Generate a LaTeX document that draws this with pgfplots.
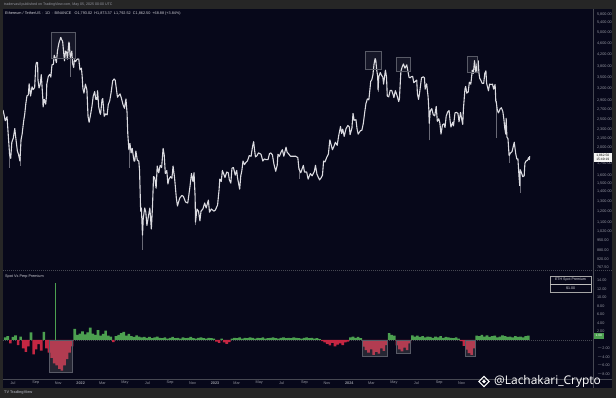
\documentclass[border=0pt]{standalone}
\usepackage{pgfplots}
\pgfplotsset{compat=1.18}
\usepackage{pgfplotstable}
\usepgfplotslibrary{dateplot}
\usepackage{fontspec}
\setmainfont{Liberation Sans}
\newfontfamily\wmfont{Open Sans}
\definecolor{bgnavy}{HTML}{07081A}
\definecolor{frame}{HTML}{262626}
\definecolor{lblgray}{RGB}{150,152,162}
\definecolor{candle}{RGB}{218,218,224}
\definecolor{wick}{RGB}{105,105,118}
\definecolor{pgreen}{RGB}{76,160,80}
\definecolor{pred}{RGB}{196,38,66}
\definecolor{sepgray}{RGB}{70,72,82}
\definecolor{boxgray}{RGB}{88,90,102}

\pgfplotstableread{
date p
2021-06-04 2690
2021-06-07 2590
2021-06-10 2470
2021-06-15 2550
2021-06-18 2230
2021-06-22 1880
2021-06-25 1830
2021-06-28 2080
2021-07-02 2150
2021-07-06 2320
2021-07-09 2140
2021-07-13 1940
2021-07-16 1890
2021-07-20 1790
2021-07-23 2120
2021-07-26 2220
2021-07-30 2460
2021-08-02 2600
2021-08-05 2830
2021-08-08 3010
2021-08-12 3040
2021-08-14 3320
2021-08-18 3010
2021-08-22 3240
2021-08-25 3170
2021-08-29 3220
2021-09-01 3830
2021-09-03 3940
2021-09-06 3930
2021-09-07 3420
2021-09-10 3210
2021-09-13 3300
2021-09-16 3570
2021-09-20 2980
2021-09-21 2760
2021-09-24 2930
2021-09-28 2820
2021-09-30 3000
2021-10-01 3310
2021-10-05 3520
2021-10-09 3580
2021-10-12 3500
2021-10-15 3860
2021-10-19 3880
2021-10-21 4170
2021-10-24 4080
2021-10-27 3930
2021-10-30 4320
2021-11-03 4600
2021-11-08 4810
2021-11-10 4730
2021-11-13 4660
2021-11-16 4240
2021-11-18 3990
2021-11-21 4310
2021-11-24 4270
2021-11-26 4040
2021-11-30 4630
2021-12-01 4580
2021-12-03 4210
2021-12-04 4100
2021-12-08 4310
2021-12-10 3910
2021-12-13 3780
2021-12-15 4020
2021-12-18 3960
2021-12-21 4020
2021-12-24 4050
2021-12-27 4040
2021-12-30 3710
2022-01-03 3760
2022-01-05 3540
2022-01-07 3200
2022-01-10 3080
2022-01-14 3310
2022-01-18 3160
2022-01-21 2560
2022-01-24 2440
2022-01-28 2600
2022-02-01 2790
2022-02-04 3000
2022-02-08 3120
2022-02-11 2930
2022-02-14 2930
2022-02-16 3140
2022-02-19 2760
2022-02-22 2640
2022-02-24 2600
2022-02-28 2920
2022-03-02 2950
2022-03-06 2560
2022-03-10 2610
2022-03-14 2590
2022-03-17 2810
2022-03-21 2900
2022-03-25 3110
2022-03-29 3400
2022-04-02 3450
2022-04-05 3410
2022-04-08 3190
2022-04-11 2980
2022-04-14 3020
2022-04-18 3060
2022-04-21 2980
2022-04-26 2810
2022-04-30 2730
2022-05-04 2940
2022-05-07 2640
2022-05-09 2230
2022-05-12 1960
2022-05-15 2060
2022-05-18 1910
2022-05-21 1980
2022-05-26 1790
2022-05-28 1790
2022-05-31 1940
2022-06-04 1800
2022-06-08 1790
2022-06-10 1660
2022-06-13 1200
2022-06-15 1230
2022-06-18 990
2022-06-20 1130
2022-06-24 1230
2022-06-27 1190
2022-06-30 1070
2022-07-04 1150
2022-07-08 1230
2022-07-12 1040
2022-07-15 1230
2022-07-18 1580
2022-07-21 1570
2022-07-25 1440
2022-07-28 1720
2022-08-01 1630
2022-08-05 1730
2022-08-09 1700
2022-08-13 1980
2022-08-16 1880
2022-08-19 1620
2022-08-23 1660
2022-08-26 1490
2022-08-29 1550
2022-09-02 1580
2022-09-06 1560
2022-09-09 1720
2022-09-13 1570
2022-09-15 1470
2022-09-18 1330
2022-09-21 1250
2022-09-27 1330
2022-10-03 1360
2022-10-07 1350
2022-10-13 1290
2022-10-19 1280
2022-10-25 1460
2022-10-29 1620
2022-11-02 1520
2022-11-05 1630
2022-11-08 1340
2022-11-09 1100
2022-11-13 1220
2022-11-17 1200
2022-11-21 1110
2022-11-24 1200
2022-11-29 1220
2022-12-04 1280
2022-12-08 1230
2022-12-14 1310
2022-12-17 1190
2022-12-22 1220
2022-12-29 1200
2023-01-02 1210
2023-01-08 1260
2023-01-12 1420
2023-01-14 1550
2023-01-18 1520
2023-01-21 1660
2023-01-25 1610
2023-01-28 1570
2023-02-02 1640
2023-02-06 1630
2023-02-09 1540
2023-02-13 1500
2023-02-16 1690
2023-02-20 1700
2023-02-25 1600
2023-03-01 1660
2023-03-03 1570
2023-03-09 1430
2023-03-12 1590
2023-03-15 1660
2023-03-18 1790
2023-03-22 1740
2023-03-26 1770
2023-03-30 1790
2023-04-04 1870
2023-04-09 1860
2023-04-13 2010
2023-04-16 2090
2023-04-19 1930
2023-04-21 1850
2023-04-25 1870
2023-04-29 1910
2023-05-03 1900
2023-05-06 1890
2023-05-11 1790
2023-05-15 1820
2023-05-20 1810
2023-05-25 1810
2023-05-29 1900
2023-06-02 1910
2023-06-06 1880
2023-06-10 1750
2023-06-15 1650
2023-06-19 1730
2023-06-21 1890
2023-06-25 1860
2023-06-30 1930
2023-07-03 1960
2023-07-07 1860
2023-07-13 2000
2023-07-16 1920
2023-07-21 1890
2023-07-25 1860
2023-08-01 1860
2023-08-08 1860
2023-08-14 1840
2023-08-17 1680
2023-08-22 1630
2023-08-29 1730
2023-09-01 1640
2023-09-07 1640
2023-09-11 1550
2023-09-17 1620
2023-09-22 1590
2023-09-28 1650
2023-10-01 1730
2023-10-05 1610
2023-10-12 1540
2023-10-17 1570
2023-10-20 1600
2023-10-23 1790
2023-10-27 1780
2023-11-01 1850
2023-11-05 1890
2023-11-09 2120
2023-11-12 2050
2023-11-16 1960
2023-11-20 2010
2023-11-24 2080
2023-11-29 2030
2023-12-03 2190
2023-12-08 2360
2023-12-11 2230
2023-12-14 2310
2023-12-18 2180
2023-12-23 2320
2023-12-28 2380
2024-01-01 2350
2024-01-03 2210
2024-01-08 2330
2024-01-11 2620
2024-01-14 2480
2024-01-19 2490
2024-01-22 2310
2024-01-25 2220
2024-01-31 2280
2024-02-04 2290
2024-02-08 2420
2024-02-12 2660
2024-02-15 2830
2024-02-19 2940
2024-02-23 2920
2024-02-26 3180
2024-02-28 3380
2024-03-02 3430
2024-03-05 3560
2024-03-08 3880
2024-03-11 4060
2024-03-13 4000
2024-03-15 3730
2024-03-18 3520
2024-03-19 3160
2024-03-21 3510
2024-03-25 3630
2024-03-28 3560
2024-04-01 3500
2024-04-03 3310
2024-04-08 3700
2024-04-11 3500
2024-04-13 3010
2024-04-17 2990
2024-04-21 3150
2024-04-25 3150
2024-04-30 3010
2024-05-01 2970
2024-05-05 3140
2024-05-09 3040
2024-05-14 2880
2024-05-16 2940
2024-05-20 3660
2024-05-23 3780
2024-05-27 3890
2024-05-31 3760
2024-06-05 3860
2024-06-08 3680
2024-06-11 3500
2024-06-14 3480
2024-06-17 3510
2024-06-21 3520
2024-06-24 3350
2024-06-28 3380
2024-07-02 3420
2024-07-04 3060
2024-07-07 2930
2024-07-10 3100
2024-07-15 3480
2024-07-20 3510
2024-07-23 3480
2024-07-25 3180
2024-07-29 3320
2024-08-02 2990
2024-08-04 2690
2024-08-05 2420
2024-08-08 2680
2024-08-12 2720
2024-08-16 2590
2024-08-20 2570
2024-08-24 2770
2024-08-27 2460
2024-08-31 2510
2024-09-03 2420
2024-09-06 2220
2024-09-10 2390
2024-09-14 2410
2024-09-17 2340
2024-09-20 2560
2024-09-24 2650
2024-09-28 2680
2024-10-01 2450
2024-10-03 2350
2024-10-08 2440
2024-10-10 2370
2024-10-14 2630
2024-10-18 2640
2024-10-22 2620
2024-10-25 2450
2024-10-29 2640
2024-11-01 2510
2024-11-04 2400
2024-11-06 2720
2024-11-10 3180
2024-11-12 3250
2024-11-15 3080
2024-11-19 3110
2024-11-22 3360
2024-11-26 3310
2024-11-30 3700
2024-12-03 3610
2024-12-06 3990
2024-12-09 3700
2024-12-10 3630
2024-12-13 3890
2024-12-16 3990
2024-12-18 3630
2024-12-20 3470
2024-12-23 3420
2024-12-27 3330
2024-12-31 3330
2025-01-03 3610
2025-01-06 3680
2025-01-08 3330
2025-01-13 3140
2025-01-16 3310
2025-01-20 3300
2025-01-24 3310
2025-01-27 3180
2025-01-31 3300
2025-02-02 2870
2025-02-03 2880
2025-02-06 2690
2025-02-09 2630
2025-02-14 2720
2025-02-17 2740
2025-02-21 2660
2025-02-24 2490
2025-02-26 2340
2025-03-01 2220
2025-03-02 2520
2025-03-04 2170
2025-03-07 2140
2025-03-10 1870
2025-03-14 1910
2025-03-18 1930
2025-03-24 2080
2025-03-28 1900
2025-03-31 1820
2025-04-03 1820
2025-04-06 1580
2025-04-08 1470
2025-04-09 1670
2025-04-12 1640
2025-04-16 1580
2025-04-20 1590
2025-04-22 1760
2025-04-25 1790
2025-04-29 1800
2025-05-02 1840
2025-05-04 1810
2025-05-05 1862
}\price

% premium: x = days since 2021-07-01
\pgfplotstableread{
d v
-21 0.6
-14 0.9
-7 -0.8
0 0.7
7 1.1
14 -1.2
21 0.8
28 -2.0
35 -2.8
42 -1.5
49 1.8
56 -3.4
63 -2.2
70 -1.0
77 -2.5
84 1.9
91 -2.0
98 -3.0
105 -4.2
112 -5.5
119 -6.0
126 -6.8
133 -7.2
140 -6.0
147 -4.5
154 -3.0
161 -1.5
168 2.6
175 1.2
182 1.5
189 2.0
196 1.3
203 1.8
210 2.9
217 1.5
224 1.2
231 2.3
238 1.0
245 1.4
252 2.2
259 1.0
266 0.8
273 -0.5
280 0.9
287 1.2
294 1.6
301 1.9
308 1.0
315 1.4
322 0.9
329 0.7
336 1.1
343 0.8
350 0.6
357 0.7
364 0.5
371 0.7
378 0.4
385 0.6
392 0.8
399 0.5
406 0.4
413 0.6
420 0.3
427 0.5
434 0.7
441 0.4
448 0.5
455 0.3
462 0.6
469 0.4
476 0.5
483 0.7
490 0.4
497 0.3
504 0.5
511 0.6
518 0.4
525 0.3
532 0.5
539 0.4
546 0.3
553 -0.4
560 -0.7
567 0.3
574 -0.6
581 -0.9
588 -0.5
595 0.3
602 0.5
609 0.4
616 0.6
623 0.3
630 0.5
637 0.4
644 0.6
651 0.5
658 0.3
665 0.5
672 0.4
679 0.6
686 0.3
693 0.4
700 0.5
707 0.6
714 0.4
721 0.3
728 0.5
735 0.6
742 0.4
749 0.5
756 0.4
763 0.6
770 0.5
777 0.4
784 0.3
791 0.5
798 0.6
805 0.4
812 0.5
819 0.3
826 0.4
833 0.2
840 -0.3
847 -0.6
854 -0.9
861 -1.3
868 -0.7
875 -1.5
882 -1.1
889 -0.8
896 -1.2
903 -0.6
910 -0.4
917 0.6
924 0.8
931 0.5
938 0.7
945 0.4
952 -1.6
959 -2.4
966 -3.0
973 -2.2
980 -3.5
987 -2.8
994 -3.2
1001 -2.0
1008 -2.6
1015 -1.2
1022 1.6
1029 1.2
1036 1.0
1043 -1.3
1050 -2.2
1057 -2.7
1064 -1.8
1071 -2.4
1078 -0.8
1085 1.1
1092 0.8
1099 1.0
1106 0.7
1113 0.9
1120 0.6
1127 0.8
1134 0.7
1141 0.5
1148 0.8
1155 0.6
1162 0.9
1169 0.5
1176 0.7
1183 0.6
1190 0.5
1197 0.4
1204 0.6
1211 0.3
1218 -0.3
1225 -1.4
1232 -2.3
1239 -3.1
1246 -3.5
1253 -2.0
1260 1.0
1267 0.9
1274 1.2
1281 0.8
1288 1.1
1295 0.7
1302 0.9
1309 1.0
1316 0.6
1323 0.8
1330 1.1
1337 0.9
1344 0.7
1351 0.8
1358 0.6
1365 0.9
1372 0.7
1379 0.8
1386 0.6
1393 0.9
1400 1.0
}\prem

\begin{document}
\begin{tikzpicture}
\begin{scope}[x=1bp,y=1bp]
\useasboundingbox (0,0) rectangle (616,398);
\fill[frame] (0,0) rectangle (616,398);
\fill[bgnavy] (3,10) rectangle (612,389);
% header and legend
\node[anchor=west, inner sep=0, font=\fontsize{3.6}{4}\selectfont, text=lblgray] at (4,393.5) {tradervasil published on TradingView.com, May 05, 2025 00:00 UTC};
\node[anchor=west, inner sep=0, font=\fontsize{3.8}{4.2}\selectfont, text=candle!85!lblgray] at (5,384) {Ethereum / TetherUS \,·\, 1D \,·\, BINANCE \ \ O1,793.02 \ H1,873.37 \ L1,792.52 \ C1,862.50 \ +68.88 (+3.84\%)};
\end{scope}

% main price axis
\begin{axis}[at={(3bp,128bp)}, anchor=south west, width=590bp, height=261bp, scale only axis,
  date coordinates in=x, xmin=2021-06-04, xmax=2025-10-24,
  ymode=log, ymin=749.6, ymax=6034,
  axis line style={draw=none}, tick style={draw=none}, xtick=\empty,
  ytick={5800,5400,5000,4600,4200,3800,3500,3200,2900,2700,2500,2300,2150,2000,1750,1600,1500,1400,1300,1200,1100,1020,950,880,820,767.5},
  yticklabels={5{,}800.00,5{,}400.00,5{,}000.00,4{,}600.00,4{,}200.00,3{,}800.00,3{,}500.00,3{,}200.00,2{,}900.00,2{,}700.00,2{,}500.00,2{,}300.00,2{,}150.00,2{,}000.00,1{,}750.00,1{,}600.00,1{,}500.00,1{,}400.00,1{,}300.00,1{,}200.00,1{,}100.00,1{,}020.00,950.00,880.00,820.00,767.50},
  yticklabel pos=right,
  yticklabel style={font=\fontsize{3.8}{4}\selectfont, text=lblgray, anchor=west, xshift=0.5bp},
  clip=true]
% wicks of the deepest candles
\addplot[wick, line width=0.45bp] coordinates {(2021-06-22,1700) (2021-06-22,1900)};
\addplot[wick, line width=0.45bp] coordinates {(2021-07-20,1718) (2021-07-20,1850)};
\addplot[wick, line width=0.45bp] coordinates {(2021-12-04,3500) (2021-12-04,4150)};
\addplot[wick, line width=0.45bp] coordinates {(2022-05-12,1700) (2022-05-12,2000)};
\addplot[wick, line width=0.45bp] coordinates {(2022-06-18,880) (2022-06-18,1080)};
\addplot[wick, line width=0.45bp] coordinates {(2022-11-09,1070) (2022-11-09,1250)};
\addplot[wick, line width=0.45bp] coordinates {(2023-08-17,1550) (2023-08-17,1700)};
\addplot[wick, line width=0.45bp] coordinates {(2024-03-19,3100) (2024-03-19,3400)};
\addplot[wick, line width=0.45bp] coordinates {(2024-08-05,2110) (2024-08-05,2600)};
\addplot[wick, line width=0.45bp] coordinates {(2025-02-03,2150) (2025-02-03,2800)};
\addplot[wick, line width=0.45bp] coordinates {(2025-03-11,1760) (2025-03-11,1920)};
\addplot[wick, line width=0.45bp] coordinates {(2025-04-09,1385) (2025-04-09,1560)};
\addplot[candle, line width=1.1bp, line join=round] table[x=date, y=p] {\price};
\end{axis}

% lower premium axis
\begin{axis}[at={(3bp,19bp)}, anchor=south west, width=590bp, height=107bp, scale only axis,
  xmin=-27, xmax=1576, ymin=-9.2, ymax=16,
  axis line style={draw=none}, tick style={draw=none},
  xtick={0,62,123,184,243,304,365,427,488,549,608,669,730,792,853,914,974,1035,1096,1158,1219},
  xticklabels={Jul,Sep,Nov,\textbf{2022},Mar,May,Jul,Sep,Nov,\textbf{2023},Mar,May,Jul,Sep,Nov,\textbf{2024},Mar,May,Jul,Sep,Nov},
  xticklabel style={font=\fontsize{3.8}{4}\selectfont, text=lblgray, anchor=center, yshift=-4bp},
  ytick={14,12,10,8,6,4,2,-2,-4,-6,-8},
  yticklabels={14.00,12.00,10.00,8.00,6.00,4.00,2.00,$-$2.00,$-$4.00,$-$6.00,$-$8.00},
  yticklabel pos=right,
  yticklabel style={font=\fontsize{3.8}{4}\selectfont, text=lblgray, anchor=west, xshift=0.5bp},
  clip=true]
\draw[sepgray, line width=0.4bp, dash pattern=on 1bp off 1bp] (axis cs:-27,0) -- (axis cs:1576,0);
\addplot[ybar, bar width=7, bar shift=0, fill=pgreen, draw=none, restrict y to domain=0:30] table[x=d, y=v] {\prem};
\addplot[ybar, bar width=7, bar shift=0, fill=pred, draw=none, restrict y to domain=-30:0] table[x=d, y=v] {\prem};
\addplot[ycomb, pgreen, line width=0.8bp] coordinates {(115,13.3)};
\end{axis}

\begin{scope}[x=1bp,y=1bp]
% separators
\draw[sepgray, line width=0.5bp, dash pattern=on 1bp off 1bp] (3,127.5) -- (612,127.5);
\draw[sepgray, line width=0.4bp] (593,10) -- (593,389);
\draw[sepgray, line width=0.4bp] (3,19) -- (612,19);
% highlight boxes main
\foreach \a/\b/\c/\d in {51/340/75/366, 365/329/381/347, 396/327/410/341, 467/326/477/342}{
  \draw[boxgray, line width=0.45bp, fill=white, fill opacity=0.06] (\a,\b) rectangle (\c,\d);
}
% highlight boxes lower
\foreach \a/\b/\c/\d in {49/26/72/58, 362/42/387/58, 396/45/410/58, 465/42/475/58}{
  \draw[boxgray, line width=0.45bp, fill=gray, fill opacity=0.25] (\a,\b) rectangle (\c,\d);
}
% current price box
\fill[white!92!gray] (593.5,236) rectangle (612,245);
\node[inner sep=0, align=center, font=\fontsize{3.3}{3.6}\selectfont, text=black] at (602.8,240.5) {1,862.50\\15:49:19};
% premium value box
\fill[pgreen] (593.5,59.5) rectangle (604,65);
\node[inner sep=0, font=\fontsize{3.2}{3.5}\selectfont, text=white] at (598.8,62.2) {1.00};
% lower panel title and legend box
\node[anchor=west, inner sep=0, font=\fontsize{3.8}{4}\selectfont, text=candle!80!lblgray] at (5,121.5) {Spot Vs Perp Premium};
\draw[gray!70, line width=0.4bp] (550,106) rectangle (591,122);
\draw[gray!50, line width=0.3bp] (550,114) -- (591,114);
\node[inner sep=0, font=\fontsize{3.6}{4}\selectfont, text=candle] at (570.5,118) {ETH Spot Premium};
\node[inner sep=0, font=\fontsize{3.6}{4}\selectfont, text=candle] at (570.5,110) {\$1.00};
% bottom logo
\node[anchor=west, inner sep=0, font=\fontsize{3.8}{4}\selectfont\bfseries, text=lblgray] at (4,5) {TV\ TradingView};
% watermark
\begin{scope}[shift={(484,16.5)}, rotate=45]
  \draw[white, line width=1.1bp] (-3.6,-3.6) rectangle (3.6,3.6);
  \fill[white] (-1.3,-1.3) rectangle (1.3,1.3);
\end{scope}
\node[anchor=west, inner sep=0, font=\wmfont\fontsize{12}{13}\selectfont, text=white] at (494,16.5) {@Lachakari\_Crypto};
\end{scope}
\end{tikzpicture}
\end{document}
